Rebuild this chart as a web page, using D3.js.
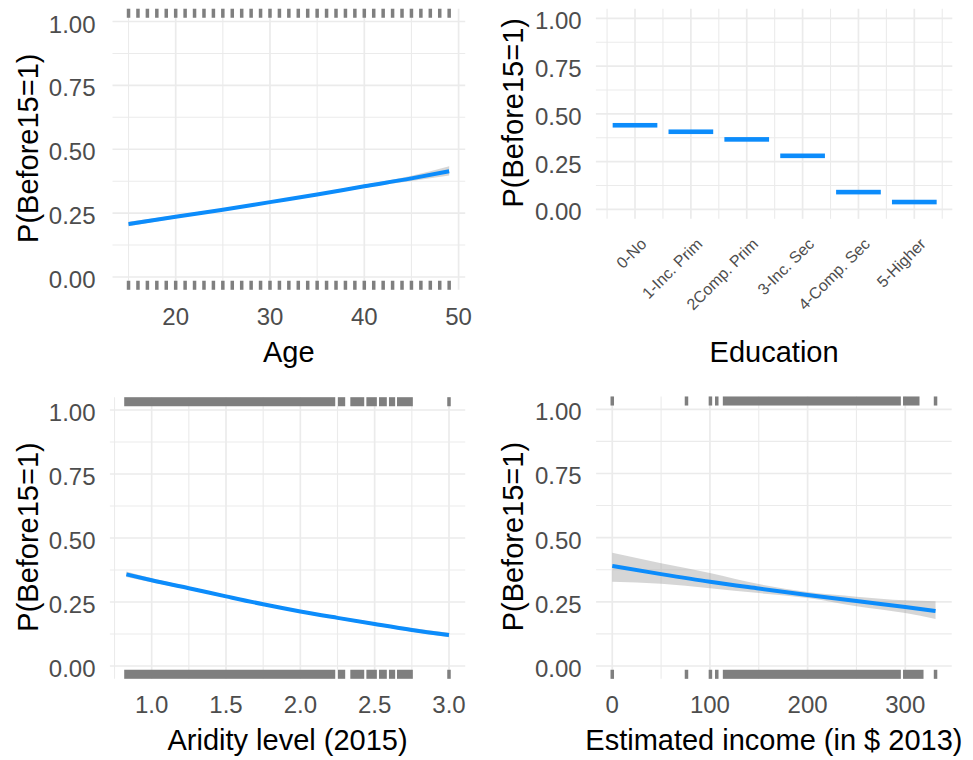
<!DOCTYPE html>
<html><head><meta charset="utf-8">
<script src="https://cdn.jsdelivr.net/npm/d3@7"></script>
<style>body{margin:0;background:#fff}svg{display:block;font-family:"Liberation Sans",Arial,sans-serif}</style>
</head><body><svg id="c" width="973" height="760"></svg>
<script>
// ---------- data ----------
const yTicks = [0, 0.25, 0.5, 0.75, 1];
const yTickLabels = ["0.00", "0.25", "0.50", "0.75", "1.00"];
const yMinor = [0.125, 0.375, 0.625, 0.875];
const yTitle = "P(Before15=1)";

// Age panel
const ageX   = [15, 20, 25, 30, 35, 40, 45, 49];
const ageFit = [0.207, 0.236, 0.263, 0.293, 0.323, 0.355, 0.386, 0.414];
const ageLo  = [0.199, 0.230, 0.258, 0.289, 0.318, 0.349, 0.376, 0.397];
const ageHi  = [0.216, 0.242, 0.268, 0.297, 0.328, 0.361, 0.396, 0.433];
const ageRugTop    = [15,16,17,18,19,20,21,22,23,24,25,26,27,28,29,30,31,32,33,34,35,36,37,38,39,40,41,42,43,44,45,46,47,48,49];
const ageRugBottom = [15,16,17,18,19,20,21,22,23,24,25,26,27,28,29,30,31,32,33,34,35,36,37,38,39,40,41,42,43,44,45,46,47,48,49];
const ageTicks = [20, 30, 40, 50];
const ageMinor = [15, 25, 35, 45];

// Education panel
const eduCats = ["0-No", "1-Inc. Prim", "2Comp. Prim", "3-Inc. Sec", "4-Comp. Sec", "5-Higher"];
const eduVals = [0.440, 0.406, 0.366, 0.280, 0.090, 0.038];

// Aridity panel
const aridX   = [0.83, 1.0, 1.25, 1.5, 1.75, 2.0, 2.25, 2.5, 2.75, 3.0];
const aridFit = [0.358, 0.335, 0.304, 0.272, 0.241, 0.213, 0.188, 0.164, 0.141, 0.121];
const aridLo  = [0.348, 0.327, 0.298, 0.267, 0.237, 0.209, 0.183, 0.158, 0.134, 0.112];
const aridHi  = [0.369, 0.343, 0.310, 0.277, 0.245, 0.217, 0.193, 0.170, 0.148, 0.130];
const aridRugTop    = [[0.827,2.223],[2.265,2.29],[2.348,2.418],[2.456,2.503],[2.541,2.57],[2.608,2.626],[2.662,2.745],[3.0,3.0]];
const aridRugBottom = [[0.827,2.223],[2.265,2.29],[2.348,2.418],[2.456,2.503],[2.541,2.57],[2.608,2.626],[2.662,2.745],[3.0,3.0]];
const aridTicks = [1.0, 1.5, 2.0, 2.5, 3.0];
const aridTickLabels = ["1.0", "1.5", "2.0", "2.5", "3.0"];
const aridMinor = [0.75, 1.25, 1.75, 2.25, 2.75];

// Income panel
const incX   = [0, 50, 100, 150, 200, 250, 300, 331];
const incFit = [0.390, 0.358, 0.328, 0.302, 0.277, 0.253, 0.230, 0.214];
const incLo  = [0.328, 0.320, 0.303, 0.284, 0.265, 0.233, 0.206, 0.183];
const incHi  = [0.441, 0.400, 0.362, 0.319, 0.288, 0.270, 0.256, 0.252];
const incRugTop    = [[0,0],[76,76],[100.5,100.5],[107,107],[115,293.7],[299.5,312.8],[331,331]];
const incRugBottom = [[0,0],[76,76],[100.5,100.5],[107,107],[115,293.7],[299.5,316.9],[331,331]];
const incTicks = [0, 100, 200, 300];
const incMinor = [50, 150, 250];

// ---------- drawing ----------
const svg = d3.select("#c");
svg.append("rect").attr("width", 973).attr("height", 760).attr("fill", "#fff");
const BLUE = "#0c8cfb", GRID = "#ebebeb", RUG = "#7f7f7f", TICKC = "#4d4d4d";
const TITLE_FS = 29, TICK_FS = 24;

function panel(o) {
  const g = svg.append("g");
  const x = d3.scaleLinear().domain(o.xDomain).range(o.xRange);
  const y = d3.scaleLinear().domain([0, 1]).range([o.yZero, o.yOne]);
  const xl = o.xRange[0], xr = o.xRange[1];
  const top = y(1.05), bot = y(-0.05);
  const H = bot - top;
  // grid
  g.selectAll(".ymin").data(yMinor).join("line")
    .attr("x1", xl).attr("x2", xr).attr("y1", d => y(d)).attr("y2", d => y(d))
    .attr("stroke", GRID).attr("stroke-width", 1.1);
  g.selectAll(".xmin").data(o.minorX).join("line")
    .attr("y1", top).attr("y2", bot).attr("x1", d => x(d)).attr("x2", d => x(d))
    .attr("stroke", GRID).attr("stroke-width", 1.1);
  g.selectAll(".ymaj").data(yTicks).join("line")
    .attr("x1", xl).attr("x2", xr).attr("y1", d => y(d)).attr("y2", d => y(d))
    .attr("stroke", GRID).attr("stroke-width", 1.7);
  g.selectAll(".xmaj").data(o.majorX).join("line")
    .attr("y1", top).attr("y2", bot).attr("x1", d => x(d)).attr("x2", d => x(d))
    .attr("stroke", GRID).attr("stroke-width", 1.7);
  // y tick labels
  g.selectAll(".ytl").data(yTicks).join("text")
    .attr("x", o.yLabX).attr("y", d => y(d) + 11)
    .attr("text-anchor", "end").attr("font-size", TICK_FS).attr("fill", TICKC)
    .text((d, i) => yTickLabels[i]);
  // y title
  const cy = (top + bot) / 2 - 1;
  g.append("text").attr("transform", `translate(${o.yTitleX},${cy}) rotate(-90)`)
    .attr("text-anchor", "middle").attr("font-size", TITLE_FS).attr("fill", "#000").text(yTitle);
  // x title
  g.append("text").attr("x", (xl + xr) / 2).attr("y", o.xTitleY)
    .attr("text-anchor", "middle").attr("font-size", TITLE_FS).attr("fill", "#000").text(o.xTitle);
  // x tick labels
  if (o.xLabels) {
    g.selectAll(".xtl").data(o.majorX).join("text")
      .attr("x", d => x(d)).attr("y", o.xLabY)
      .attr("text-anchor", "middle").attr("font-size", TICK_FS).attr("fill", TICKC)
      .text((d, i) => o.xLabels[i]);
  }
  // band + line
  if (o.fx) {
    const pts = o.fx.map((v, i) => ({ x: v, f: o.fit[i], lo: o.lo[i], hi: o.hi[i] }));
    g.append("path").datum(pts)
      .attr("d", d3.area().x(d => x(d.x)).y0(d => y(d.lo)).y1(d => y(d.hi)).curve(d3.curveMonotoneX))
      .attr("fill", "rgba(153,153,153,0.4)");
    g.append("path").datum(pts)
      .attr("d", d3.line().x(d => x(d.x)).y(d => y(d.f)).curve(d3.curveMonotoneX))
      .attr("fill", "none").attr("stroke", BLUE).attr("stroke-width", 4);
  }
  // rugs
  const rugLen = 0.03 * H + 0.6;
  const seg = d => Array.isArray(d) ? d : [d, d];
  if (o.rugTop) {
    g.selectAll(".rt").data(o.rugTop).join("rect")
      .attr("x", d => x(seg(d)[0]) - 1.75).attr("width", d => x(seg(d)[1]) - x(seg(d)[0]) + 3.5)
      .attr("y", top).attr("height", rugLen).attr("fill", RUG);
    g.selectAll(".rb").data(o.rugBottom).join("rect")
      .attr("x", d => x(seg(d)[0]) - 1.75).attr("width", d => x(seg(d)[1]) - x(seg(d)[0]) + 3.5)
      .attr("y", bot - rugLen).attr("height", rugLen).attr("fill", RUG);
  }
  return { g, x, y };
}

// Top-left: Age
panel({
  xDomain: [13.3, 50.7], xRange: [112.5, 465.2], yOne: 21.5, yZero: 277,
  majorX: ageTicks, minorX: ageMinor, xLabels: ageTicks.map(String), xLabY: 325,
  yLabX: 95.5, yTitleX: 37.5, xTitle: "Age", xTitleY: 361.7,
  fx: ageX, fit: ageFit, lo: ageLo, hi: ageHi, rugTop: ageRugTop, rugBottom: ageRugBottom
});

// Top-right: Education
const eduIdx = eduCats.map((d, i) => i);
const edu = panel({
  xDomain: [-0.7, 5.68], xRange: [595.9, 952.3], yOne: 18.3, yZero: 209.3,
  majorX: eduIdx, minorX: [-0.5, 0.5, 1.5, 2.5, 3.5, 4.5, 5.5], xLabels: null,
  yLabX: 581.7, yTitleX: 522.5, xTitle: "Education", xTitleY: 361.7
});
edu.g.selectAll(".eb").data(eduVals).join("rect")
  .attr("x", (d, i) => edu.x(i - 0.4)).attr("width", (d, i) => edu.x(i + 0.4) - edu.x(i - 0.4))
  .attr("y", d => edu.y(d) - 2.3).attr("height", 4.6).attr("fill", BLUE);
edu.g.selectAll(".el").data(eduCats).join("text")
  .attr("transform", (d, i) => `translate(${edu.x(i) + 12.5},245) rotate(-45)`)
  .attr("text-anchor", "end").attr("font-size", 16).attr("fill", TICKC).text(d => d);

// Bottom-left: Aridity
panel({
  xDomain: [0.719, 3.109], xRange: [109.9, 465.2], yOne: 410, yZero: 666,
  majorX: aridTicks, minorX: aridMinor, xLabels: aridTickLabels, xLabY: 713.3,
  yLabX: 95.5, yTitleX: 37.5, xTitle: "Aridity level (2015)", xTitleY: 750,
  fx: aridX, fit: aridFit, lo: aridLo, hi: aridHi, rugTop: aridRugTop, rugBottom: aridRugBottom
});

// Bottom-right: Income
panel({
  xDomain: [-16.55, 347.55], xRange: [596.1, 951.7], yOne: 409.3, yZero: 666,
  majorX: incTicks, minorX: incMinor, xLabels: incTicks.map(String), xLabY: 713.3,
  yLabX: 581.7, yTitleX: 522.5, xTitle: "Estimated income (in $ 2013)", xTitleY: 750,
  fx: incX, fit: incFit, lo: incLo, hi: incHi, rugTop: incRugTop, rugBottom: incRugBottom
});
</script></body></html>
